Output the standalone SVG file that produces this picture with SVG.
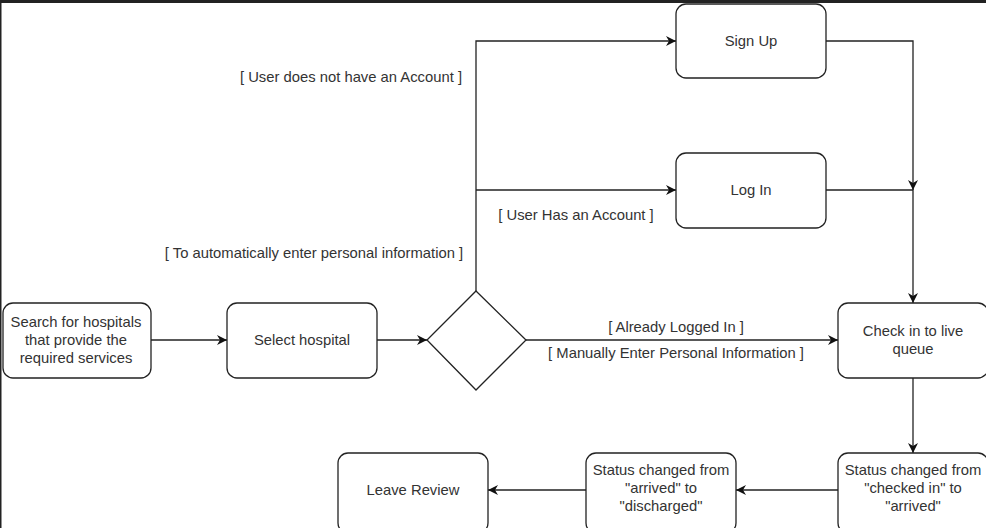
<svg xmlns="http://www.w3.org/2000/svg" width="986" height="528" viewBox="0 0 986 528">
<style>
.n rect,.n polygon{fill:#fff;stroke:#222;stroke-width:1.3}
.t{font-family:"Liberation Sans",Arial,sans-serif;font-size:14.8px;fill:#333;text-anchor:middle}
.c path{fill:none;stroke:#222;stroke-width:1.3}
</style>
<defs>
<marker id="a" viewBox="0 0 10 10" refX="10" refY="5" markerWidth="10" markerHeight="10" markerUnits="userSpaceOnUse" orient="auto">
<path d="M0,0 L10,5 L0,10 L3,5 Z" fill="#111"/>
</marker>
</defs>
<rect x="0" y="0" width="986" height="528" fill="#fff"/>
<rect x="0" y="0" width="986" height="3" fill="#222"/>
<rect x="0" y="0" width="1.5" height="528" fill="#222"/>
<g class="c">
<path d="M151,340 H227" marker-end="url(#a)"/>
<path d="M377,340 H427" marker-end="url(#a)"/>
<path d="M476,291 V41 H676" marker-end="url(#a)"/>
<path d="M476,190 H676" marker-end="url(#a)"/>
<path d="M526,340 H838" marker-end="url(#a)"/>
<path d="M826,41 H913 V190" marker-end="url(#a)"/>
<path d="M826,190 H913 V303" marker-end="url(#a)"/>
<path d="M913,378 V453" marker-end="url(#a)"/>
<path d="M838,490 H736" marker-end="url(#a)"/>
<path d="M586,490 H488" marker-end="url(#a)"/>
</g>
<g class="t">
<text x="351" y="82">[ User does not have an Account ]</text>
<text x="576" y="220">[ User Has an Account ]</text>
<text x="314" y="258">[ To automatically enter personal information ]</text>
<text x="676" y="332">[ Already Logged In ]</text>
<text x="676" y="358">[ Manually Enter Personal Information ]</text>
</g>
<g id="search" class="n"><rect x="3" y="303" width="148" height="75" rx="10"/><text class="t" x="76" y="327">Search for hospitals</text><text class="t" x="76" y="345">that provide the</text><text class="t" x="76" y="363">required services</text></g>
<g id="select" class="n"><rect x="227" y="303" width="150" height="75" rx="10"/><text class="t" x="302" y="345">Select hospital</text></g>
<g id="decision" class="n"><polygon points="476,291 526,340 476,390 427,340"/></g>
<g id="signup" class="n"><rect x="676" y="4" width="150" height="74" rx="10"/><text class="t" x="751" y="46">Sign Up</text></g>
<g id="login" class="n"><rect x="676" y="153" width="150" height="75" rx="10"/><text class="t" x="751" y="195">Log In</text></g>
<g id="checkin" class="n"><rect x="838" y="303" width="150" height="75" rx="10"/><text class="t" x="913" y="336">Check in to live</text><text class="t" x="913" y="354">queue</text></g>
<g id="status1" class="n"><rect x="838" y="453" width="150" height="80" rx="10"/><text class="t" x="913" y="475">Status changed from</text><text class="t" x="913" y="493">"checked in" to</text><text class="t" x="913" y="511">"arrived"</text></g>
<g id="status2" class="n"><rect x="586" y="453" width="150" height="80" rx="10"/><text class="t" x="661" y="475">Status changed from</text><text class="t" x="661" y="493">"arrived" to</text><text class="t" x="661" y="511">"discharged"</text></g>
<g id="review" class="n"><rect x="338" y="453" width="150" height="80" rx="10"/><text class="t" x="413" y="495">Leave Review</text></g>
</svg>
